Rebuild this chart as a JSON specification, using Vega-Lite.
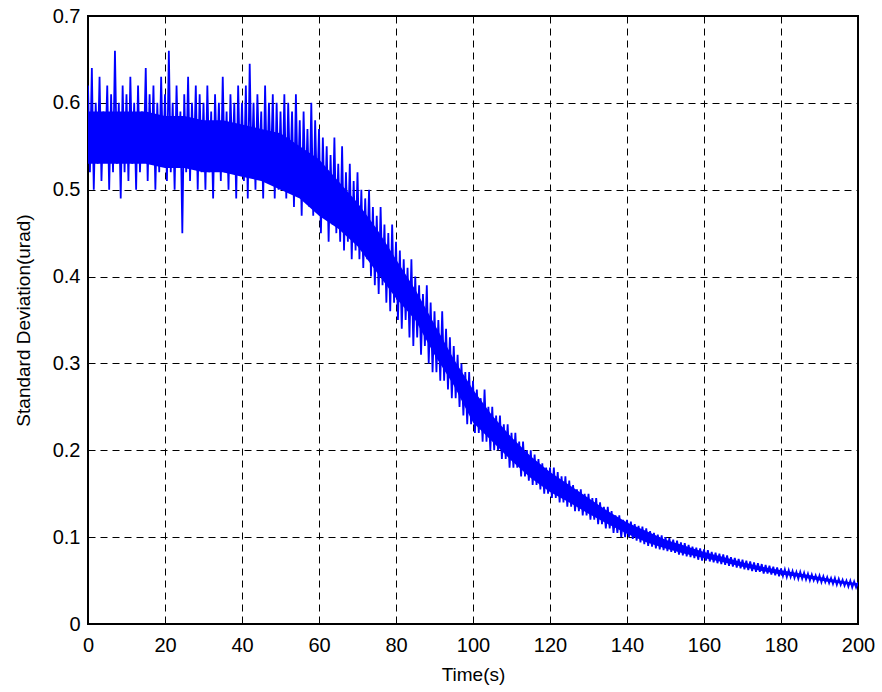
{
  "$schema": "https://vega.github.io/schema/vega-lite/v6.json",
  "width": 770,
  "height": 608,
  "autosize": {"type": "none"},
  "padding": {"left": 88, "top": 16, "right": 24, "bottom": 68},
  "background": "white",
  "config": {
    "font": "Liberation Sans",
    "view": {"stroke": "black", "strokeWidth": 2},
    "axis": {
      "labelFont": "Liberation Sans",
      "titleFont": "Liberation Sans",
      "labelColor": "black",
      "titleColor": "black",
      "labelFontSize": 20,
      "titleFontSize": 19,
      "titleFontWeight": "normal",
      "domain": false,
      "ticks": false,
      "grid": true,
      "gridColor": "black",
      "gridOpacity": 1,
      "gridWidth": 1,
      "gridDash": [7, 5]
    }
  },
  "datasets": {
    "band": [
      {"t":0,"lo":0.53,"hi":0.59},{"t":5,"lo":0.53,"hi":0.59},{"t":10,"lo":0.53,"hi":0.59},{"t":15,"lo":0.53,"hi":0.59},
      {"t":20,"lo":0.525,"hi":0.585},{"t":25,"lo":0.525,"hi":0.585},{"t":30,"lo":0.52,"hi":0.58},{"t":35,"lo":0.52,"hi":0.58},
      {"t":40,"lo":0.515,"hi":0.575},{"t":45,"lo":0.51,"hi":0.57},{"t":50,"lo":0.50,"hi":0.565},{"t":55,"lo":0.49,"hi":0.55},
      {"t":60,"lo":0.47,"hi":0.535},{"t":65,"lo":0.455,"hi":0.51},{"t":70,"lo":0.435,"hi":0.485},{"t":75,"lo":0.405,"hi":0.455},
      {"t":80,"lo":0.375,"hi":0.42},{"t":85,"lo":0.35,"hi":0.385},{"t":90,"lo":0.31,"hi":0.345},{"t":95,"lo":0.275,"hi":0.305},
      {"t":100,"lo":0.232,"hi":0.27},{"t":105,"lo":0.21,"hi":0.24},{"t":110,"lo":0.188,"hi":0.215},{"t":115,"lo":0.168,"hi":0.193},
      {"t":120,"lo":0.152,"hi":0.175},{"t":125,"lo":0.14,"hi":0.16},{"t":130,"lo":0.127,"hi":0.145},{"t":135,"lo":0.115,"hi":0.13},
      {"t":140,"lo":0.104,"hi":0.117},{"t":145,"lo":0.094,"hi":0.107},{"t":150,"lo":0.087,"hi":0.097},{"t":155,"lo":0.081,"hi":0.09},
      {"t":160,"lo":0.076,"hi":0.083},{"t":165,"lo":0.071,"hi":0.077},{"t":170,"lo":0.066,"hi":0.071},{"t":175,"lo":0.061,"hi":0.066},
      {"t":180,"lo":0.057,"hi":0.062},{"t":185,"lo":0.054,"hi":0.058},{"t":190,"lo":0.05,"hi":0.054},{"t":195,"lo":0.047,"hi":0.05},
      {"t":200,"lo":0.044,"hi":0.047}
    ],
    "main": [
    {"t":0,"v":0.62},{"t":0.5,"v":0.52},{"t":1,"v":0.64},{"t":1.5,"v":0.50},{"t":2,"v":0.60},{"t":2.5,"v":0.53},{"t":3,"v":0.63},{"t":3.5,"v":0.51},{"t":4,"v":0.59},{"t":4.5,"v":0.54},
    {"t":5,"v":0.62},{"t":5.5,"v":0.50},{"t":6,"v":0.61},{"t":6.5,"v":0.52},{"t":7,"v":0.66},{"t":7.5,"v":0.53},{"t":8,"v":0.60},{"t":8.5,"v":0.49},{"t":9,"v":0.62},{"t":9.5,"v":0.52},
    {"t":10,"v":0.61},{"t":10.5,"v":0.51},{"t":11,"v":0.63},{"t":11.5,"v":0.53},{"t":12,"v":0.60},{"t":12.5,"v":0.50},{"t":13,"v":0.62},{"t":13.5,"v":0.52},{"t":14,"v":0.59},{"t":14.5,"v":0.54},
    {"t":15,"v":0.64},{"t":15.5,"v":0.51},{"t":16,"v":0.61},{"t":16.5,"v":0.53},{"t":17,"v":0.62},{"t":17.5,"v":0.50},{"t":18,"v":0.60},{"t":18.5,"v":0.52},{"t":19,"v":0.63},{"t":19.5,"v":0.53},
    {"t":20,"v":0.61},{"t":20.5,"v":0.51},{"t":21,"v":0.66},{"t":21.5,"v":0.52},{"t":22,"v":0.60},{"t":22.5,"v":0.50},{"t":23,"v":0.62},{"t":23.5,"v":0.53},{"t":24,"v":0.59},{"t":24.5,"v":0.45},
    {"t":25,"v":0.61},{"t":25.5,"v":0.52},{"t":26,"v":0.63},{"t":26.5,"v":0.51},{"t":27,"v":0.60},{"t":27.5,"v":0.53},{"t":28,"v":0.62},{"t":28.5,"v":0.50},{"t":29,"v":0.61},{"t":29.5,"v":0.52},
    {"t":30,"v":0.60},{"t":30.5,"v":0.50},{"t":31,"v":0.62},{"t":31.5,"v":0.52},{"t":32,"v":0.59},{"t":32.5,"v":0.49},{"t":33,"v":0.61},{"t":33.5,"v":0.53},{"t":34,"v":0.60},{"t":34.5,"v":0.51},
    {"t":35,"v":0.63},{"t":35.5,"v":0.52},{"t":36,"v":0.59},{"t":36.5,"v":0.50},{"t":37,"v":0.61},{"t":37.5,"v":0.53},{"t":38,"v":0.60},{"t":38.5,"v":0.49},{"t":39,"v":0.62},{"t":39.5,"v":0.52},
    {"t":40,"v":0.60},{"t":40.5,"v":0.51},{"t":41,"v":0.62},{"t":41.5,"v":0.49},{"t":42,"v":0.645},{"t":42.5,"v":0.52},{"t":43,"v":0.60},{"t":43.5,"v":0.50},{"t":44,"v":0.61},{"t":44.5,"v":0.53},
    {"t":45,"v":0.59},{"t":45.5,"v":0.49},{"t":46,"v":0.62},{"t":46.5,"v":0.51},{"t":47,"v":0.60},{"t":47.5,"v":0.52},{"t":48,"v":0.61},{"t":48.5,"v":0.49},{"t":49,"v":0.60},{"t":49.5,"v":0.50},
    {"t":50,"v":0.59},{"t":50.5,"v":0.50},{"t":51,"v":0.61},{"t":51.5,"v":0.49},{"t":52,"v":0.60},{"t":52.5,"v":0.51},{"t":53,"v":0.59},{"t":53.5,"v":0.48},{"t":54,"v":0.61},{"t":54.5,"v":0.50},
    {"t":55,"v":0.58},{"t":55.5,"v":0.47},{"t":56,"v":0.59},{"t":56.5,"v":0.49},{"t":57,"v":0.57},{"t":57.5,"v":0.48},{"t":58,"v":0.60},{"t":58.5,"v":0.47},{"t":59,"v":0.58},{"t":59.5,"v":0.49},
    {"t":60,"v":0.57},{"t":60.5,"v":0.45},{"t":61,"v":0.56},{"t":61.5,"v":0.47},{"t":62,"v":0.55},{"t":62.5,"v":0.44},{"t":63,"v":0.54},{"t":63.5,"v":0.46},{"t":64,"v":0.56},{"t":64.5,"v":0.45},
    {"t":65,"v":0.53},{"t":65.5,"v":0.44},{"t":66,"v":0.55},{"t":66.5,"v":0.43},{"t":67,"v":0.52},{"t":67.5,"v":0.44},{"t":68,"v":0.53},{"t":68.5,"v":0.42},{"t":69,"v":0.51},{"t":69.5,"v":0.43},
    {"t":70,"v":0.52},{"t":70.5,"v":0.42},{"t":71,"v":0.50},{"t":71.5,"v":0.41},{"t":72,"v":0.49},{"t":72.5,"v":0.42},{"t":73,"v":0.50},{"t":73.5,"v":0.40},{"t":74,"v":0.48},{"t":74.5,"v":0.39},
    {"t":75,"v":0.47},{"t":75.5,"v":0.38},{"t":76,"v":0.48},{"t":76.5,"v":0.39},{"t":77,"v":0.46},{"t":77.5,"v":0.37},{"t":78,"v":0.45},{"t":78.5,"v":0.36},{"t":79,"v":0.46},{"t":79.5,"v":0.37},
    {"t":80,"v":0.44},{"t":80.5,"v":0.35},{"t":81,"v":0.43},{"t":81.5,"v":0.34},{"t":82,"v":0.42},{"t":82.5,"v":0.35},{"t":83,"v":0.41},{"t":83.5,"v":0.33},{"t":84,"v":0.42},{"t":84.5,"v":0.32},
    {"t":85,"v":0.40},{"t":85.5,"v":0.33},{"t":86,"v":0.39},{"t":86.5,"v":0.31},{"t":87,"v":0.38},{"t":87.5,"v":0.32},{"t":88,"v":0.39},{"t":88.5,"v":0.30},{"t":89,"v":0.37},{"t":89.5,"v":0.29},
    {"t":90,"v":0.36},{"t":90.5,"v":0.29},{"t":91,"v":0.35},{"t":91.5,"v":0.28},{"t":92,"v":0.36},{"t":92.5,"v":0.28},{"t":93,"v":0.34},{"t":93.5,"v":0.27},{"t":94,"v":0.33},{"t":94.5,"v":0.26},
    {"t":95,"v":0.32},{"t":95.5,"v":0.26},{"t":96,"v":0.31},{"t":96.5,"v":0.25},{"t":97,"v":0.30},{"t":97.5,"v":0.24},{"t":98,"v":0.29},{"t":98.5,"v":0.23},{"t":99,"v":0.29},{"t":99.5,"v":0.23},
    {"t":100,"v":0.28},{"t":100.5,"v":0.22},{"t":101,"v":0.27},{"t":101.5,"v":0.22},{"t":102,"v":0.26},{"t":102.5,"v":0.21},{"t":103,"v":0.27},{"t":103.5,"v":0.21},{"t":104,"v":0.25},{"t":104.5,"v":0.20},
    {"t":105,"v":0.25},{"t":105.5,"v":0.20},{"t":106,"v":0.24},{"t":106.5,"v":0.20},{"t":107,"v":0.24},{"t":107.5,"v":0.19},{"t":108,"v":0.23},{"t":108.5,"v":0.19},{"t":109,"v":0.23},{"t":109.5,"v":0.18},
    {"t":110,"v":0.22},{"t":110.5,"v":0.18},{"t":111,"v":0.22},{"t":111.5,"v":0.18},{"t":112,"v":0.21},{"t":112.5,"v":0.17},{"t":113,"v":0.21},{"t":113.5,"v":0.17},{"t":114,"v":0.20},{"t":114.5,"v":0.165},
    {"t":115,"v":0.20},{"t":115.5,"v":0.16},{"t":116,"v":0.195},{"t":116.5,"v":0.16},{"t":117,"v":0.19},{"t":117.5,"v":0.155},{"t":118,"v":0.185},{"t":118.5,"v":0.15},{"t":119,"v":0.18},{"t":119.5,"v":0.15},
    {"t":120,"v":0.18},{"t":120.5,"v":0.145},{"t":121,"v":0.18},{"t":121.5,"v":0.145},{"t":122,"v":0.175},{"t":122.5,"v":0.14},{"t":123,"v":0.17},{"t":123.5,"v":0.14},{"t":124,"v":0.17},{"t":124.5,"v":0.135},
    {"t":125,"v":0.165},{"t":125.5,"v":0.135},{"t":126,"v":0.16},{"t":126.5,"v":0.13},{"t":127,"v":0.155},{"t":127.5,"v":0.13},{"t":128,"v":0.155},{"t":128.5,"v":0.125},{"t":129,"v":0.15},{"t":129.5,"v":0.125},
    {"t":130,"v":0.15},{"t":130.5,"v":0.12},{"t":131,"v":0.145},{"t":131.5,"v":0.12},{"t":132,"v":0.145},{"t":132.5,"v":0.115},{"t":133,"v":0.14},{"t":133.5,"v":0.115},{"t":134,"v":0.135},{"t":134.5,"v":0.11},
    {"t":135,"v":0.135},{"t":135.5,"v":0.11},{"t":136,"v":0.13},{"t":136.5,"v":0.105},{"t":137,"v":0.125},{"t":137.5,"v":0.105},{"t":138,"v":0.125},{"t":138.5,"v":0.10},{"t":139,"v":0.12},{"t":139.5,"v":0.10},
    {"t":140,"v":0.12},{"t":140.5,"v":0.10},{"t":141,"v":0.118},{"t":141.5,"v":0.098},{"t":142,"v":0.115},{"t":142.5,"v":0.096},{"t":143,"v":0.113},{"t":143.5,"v":0.094},{"t":144,"v":0.112},{"t":144.5,"v":0.092},
    {"t":145,"v":0.11},{"t":145.5,"v":0.09},{"t":146,"v":0.107},{"t":146.5,"v":0.089},{"t":147,"v":0.105},{"t":147.5,"v":0.087},{"t":148,"v":0.103},{"t":148.5,"v":0.086},{"t":149,"v":0.102},{"t":149.5,"v":0.085},
    {"t":150,"v":0.10},{"t":150.5,"v":0.084},{"t":151,"v":0.099},{"t":151.5,"v":0.083},{"t":152,"v":0.097},{"t":152.5,"v":0.082},{"t":153,"v":0.096},{"t":153.5,"v":0.080},{"t":154,"v":0.094},{"t":154.5,"v":0.079},
    {"t":155,"v":0.093},{"t":155.5,"v":0.078},{"t":156,"v":0.091},{"t":156.5,"v":0.077},{"t":157,"v":0.089},{"t":157.5,"v":0.076},{"t":158,"v":0.088},{"t":158.5,"v":0.074},{"t":159,"v":0.087},{"t":159.5,"v":0.073},
    {"t":160,"v":0.086},{"t":160.5,"v":0.073},{"t":161,"v":0.085},{"t":161.5,"v":0.072},{"t":162,"v":0.083},{"t":162.5,"v":0.071},{"t":163,"v":0.082},{"t":163.5,"v":0.070},{"t":164,"v":0.081},{"t":164.5,"v":0.069},
    {"t":165,"v":0.080},{"t":165.5,"v":0.068},{"t":166,"v":0.079},{"t":166.5,"v":0.067},{"t":167,"v":0.077},{"t":167.5,"v":0.066},{"t":168,"v":0.076},{"t":168.5,"v":0.065},{"t":169,"v":0.075},{"t":169.5,"v":0.064},
    {"t":170,"v":0.074},{"t":170.5,"v":0.063},{"t":171,"v":0.073},{"t":171.5,"v":0.062},{"t":172,"v":0.072},{"t":172.5,"v":0.061},{"t":173,"v":0.071},{"t":173.5,"v":0.060},{"t":174,"v":0.070},{"t":174.5,"v":0.060},
    {"t":175,"v":0.069},{"t":175.5,"v":0.058},{"t":176,"v":0.068},{"t":176.5,"v":0.058},{"t":177,"v":0.067},{"t":177.5,"v":0.057},{"t":178,"v":0.066},{"t":178.5,"v":0.056},{"t":179,"v":0.065},{"t":179.5,"v":0.055},
    {"t":180,"v":0.064},{"t":180.5,"v":0.055},{"t":181,"v":0.063},{"t":181.5,"v":0.054},{"t":182,"v":0.062},{"t":182.5,"v":0.054},{"t":183,"v":0.061},{"t":183.5,"v":0.053},{"t":184,"v":0.060},{"t":184.5,"v":0.052},
    {"t":185,"v":0.060},{"t":185.5,"v":0.052},{"t":186,"v":0.059},{"t":186.5,"v":0.051},{"t":187,"v":0.058},{"t":187.5,"v":0.050},{"t":188,"v":0.057},{"t":188.5,"v":0.050},{"t":189,"v":0.056},{"t":189.5,"v":0.049},
    {"t":190,"v":0.056},{"t":190.5,"v":0.048},{"t":191,"v":0.055},{"t":191.5,"v":0.048},{"t":192,"v":0.054},{"t":192.5,"v":0.047},{"t":193,"v":0.053},{"t":193.5,"v":0.046},{"t":194,"v":0.053},{"t":194.5,"v":0.045},
    {"t":195,"v":0.052},{"t":195.5,"v":0.045},{"t":196,"v":0.051},{"t":196.5,"v":0.044},{"t":197,"v":0.050},{"t":197.5,"v":0.043},{"t":198,"v":0.050},{"t":198.5,"v":0.042},{"t":199,"v":0.049},{"t":199.5,"v":0.042},
    {"t":200,"v":0.048}
    ]
  },
  "encoding": {
    "x": {
      "field": "t", "type": "quantitative",
      "scale": {"domain": [0, 200], "nice": false, "zero": false},
      "axis": {"values": [0,20,40,60,80,100,120,140,160,180,200], "title": "Time(s)", "labelPadding": 11, "titlePadding": 10, "labelFlush": false}
    }
  },
  "layer": [
    {
      "data": {"name": "band"},
      "mark": {"type": "area", "color": "#0000ff", "opacity": 1, "clip": true},
      "encoding": {
        "y": {
          "field": "lo", "type": "quantitative",
          "scale": {"domain": [0, 0.7], "nice": false},
          "axis": {"values": [0,0.1,0.2,0.3,0.4,0.5,0.6,0.7], "title": "Standard Deviation(urad)", "labelPadding": 8, "titlePadding": 19, "labelFlush": false, "format": "~g"}
        },
        "y2": {"field": "hi"}
      }
    },
    {
      "data": {"name": "main"},
      "mark": {"type": "line", "color": "#0000ff", "strokeWidth": 1.8, "clip": true},
      "encoding": {
        "y": {"field": "v", "type": "quantitative"}
      }
    }
  ]
}
